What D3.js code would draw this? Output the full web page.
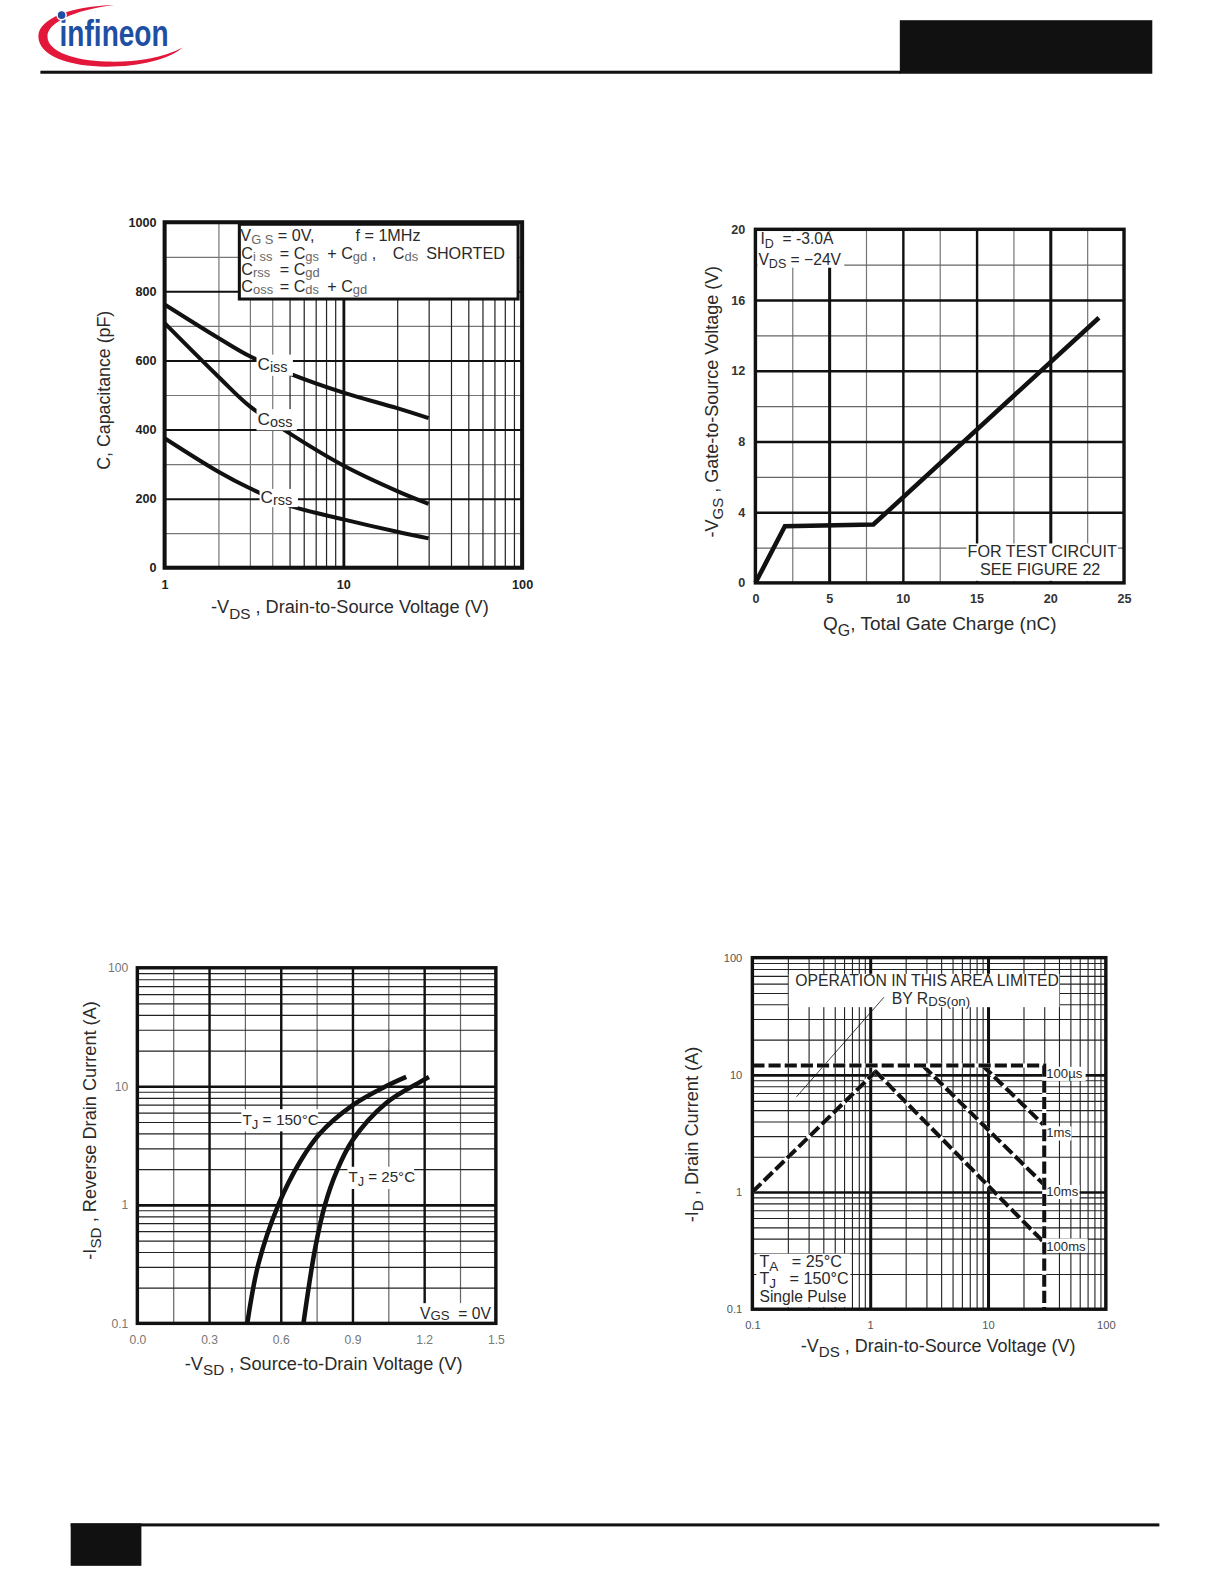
<!DOCTYPE html>
<html>
<head>
<meta charset="utf-8">
<style>
  html, body { margin: 0; padding: 0; background: #fff; overflow: hidden; }
  svg { display: block; }
  text { font-family: "Liberation Sans", Arial, sans-serif; fill: #2a2a2a; white-space: pre; }
</style>
<script src="https://cdn.jsdelivr.net/npm/d3@7"></script>
</head>
<body>
<svg id="page" width="1224" height="1584" viewBox="0 0 1212 1568" preserveAspectRatio="none"></svg>
<script>
// Capacitance vs drain-to-source voltage
const capVoltage = [1, 2, 3, 5, 10, 20, 30];
const ciss = [762, 665, 612, 562, 507, 462, 433];
const coss = [708, 553, 467, 389, 296, 222, 185];
const crss = [375, 278, 230, 180, 140, 104, 85];
const capYTicks = [0, 200, 400, 600, 800, 1000];
const capXTicks = [1, 10, 100];

// Gate charge
const gateCharge = [0, 2, 8, 23.3];
const gateVoltage = [0, 3.2, 3.3, 15];
const gateXTicks = [0, 5, 10, 15, 20, 25];
const gateYTicks = [0, 4, 8, 12, 16, 20];

// Source-drain diode forward voltage
const vsd150 = [0.46, 0.507, 0.59, 0.68, 0.764, 0.9, 1.04, 1.125];
const isd150 = [0.1, 0.32, 1, 2.3, 4.0, 6.9, 10, 12];
const vsd25 = [0.695, 0.743, 0.785, 0.833, 0.9, 1.04, 1.18, 1.22];
const isd25 = [0.1, 0.42, 1, 1.9, 3.5, 7.2, 10.8, 12];
const diodeXTicks = [0, 0.3, 0.6, 0.9, 1.2, 1.5];
const diodeYTicks = [0.1, 1, 10, 100];

// Safe operating area
const rdsV = [0.1, 1.15];
const rdsI = [1, 11];
const limitV = [0.1, 30, 30];
const limitI = [12, 12, 0.1];
const pulse100msV = [1.1, 30];
const pulse100msI = [10.8, 0.37];
const pulse10msV = [2.8, 30];
const pulse10msI = [12, 1.15];
const pulse1msV = [9, 30];
const pulse1msI = [12, 3.7];
const pointerV = [0.237, 1.31];
const pointerI = [6.5, 46];
const soaTicks = [0.1, 1, 10, 100];

// Minor grid positions on the log axes
const minors1 = [2, 3, 4, 5, 6, 7, 8, 9];
const minors10 = [20, 30, 40, 50, 60, 70, 80, 90];
const minors01 = [0.2, 0.3, 0.4, 0.5, 0.6, 0.7, 0.8, 0.9];

const svg = d3.select("#page");
const pts = (xs, ys) => xs.map((x, i) => [x, ys[i]]);

// writes a label with subscripts; parts are strings or {sub: "..."}
function rich(x, y, parts, size, opts = {}) {
    const t = svg.append("text")
        .attr("font-size", size)
        .attr("text-anchor", opts.anchor || "start")
        .attr("transform", `translate(${x},${y})` + (opts.rotate ? " rotate(-90)" : ""));
    if (opts.fill) t.style("fill", opts.fill);
    const drop = opts.drop === undefined ? size * 0.3 : opts.drop;
    let shift = 0;
    parts.forEach(p => {
        const isSub = typeof p !== "string";
        const dy = isSub ? drop : -shift;
        shift = isSub ? drop : 0;
        t.append("tspan")
            .attr("dy", dy)
            .attr("font-size", isSub ? size * (opts.subScale || 0.84) : size)
            .style("fill", isSub && opts.subFill ? opts.subFill : null)
            .text(isSub ? p.sub : p);
    });
    return t;
}

function mask(x, y, w, h) {
    svg.append("rect").attr("x", x).attr("y", y).attr("width", w).attr("height", h).attr("fill", "#fff");
}

function grid(box, xScale, yScale, tiers) {
    tiers.forEach(tier => {
        const axis = tier.axis === "x"
            ? d3.axisBottom(xScale).tickSize(-(box.bottom - box.top))
            : d3.axisLeft(yScale).tickSize(-(box.right - box.left));
        const g = svg.append("g")
            .attr("transform", tier.axis === "x" ? `translate(0,${box.bottom})` : `translate(${box.left},0)`)
            .call(axis.tickValues(tier.values).tickFormat(""));
        g.select(".domain").remove();
        g.selectAll("line").attr("stroke", tier.color).attr("stroke-width", tier.width);
    });
}

function frame(box, width) {
    svg.append("rect")
        .attr("x", box.left).attr("y", box.top)
        .attr("width", box.right - box.left).attr("height", box.bottom - box.top)
        .attr("fill", "none").attr("stroke", "#111").attr("stroke-width", width);
}

function tickLabels(box, xScale, yScale, xTicks, yTicks, style) {
    const gx = svg.append("g").attr("transform", `translate(0,${style.xY})`)
        .call(d3.axisBottom(xScale).tickValues(xTicks).tickSize(0).tickPadding(0).tickFormat(style.xFormat));
    const gy = svg.append("g").attr("transform", `translate(${style.yX},0)`)
        .call(d3.axisLeft(yScale).tickValues(yTicks).tickSize(0).tickPadding(0).tickFormat(style.yFormat));
    [gx, gy].forEach(g => {
        g.select(".domain").remove();
        g.selectAll("text")
            .style("font-family", '"Liberation Sans", Arial, sans-serif')
            .style("font-size", style.size + "px")
            .style("font-weight", style.weight)
            .style("fill", style.fill);
    });
}

function curve(data, xScale, yScale, width, factory, dash) {
    const line = d3.line().x(d => xScale(d[0])).y(d => yScale(d[1])).curve(factory || d3.curveLinear);
    if (dash) {
        svg.append("path").attr("d", line(data)).attr("fill", "none").attr("stroke", "#fff").attr("stroke-width", width);
    }
    svg.append("path").attr("d", line(data)).attr("fill", "none")
        .attr("stroke", "#111").attr("stroke-width", width).attr("stroke-dasharray", dash || null);
}

// page furniture
svg.append("path")
    .attr("d", "M113,5 C72,6 38,18 38,36 C38,56 70,66 105,66 C140,66 168,58 181,47 C160,58 130,62 105,61 C75,60 47,52 47,36 C47,23 72,10 113,5 Z")
    .attr("fill", "#e2173a");
svg.append("text").attr("x", 59).attr("y", 46).attr("font-size", 36).attr("font-weight", 700)
    .attr("textLength", 108).attr("lengthAdjust", "spacingAndGlyphs")
    .style("fill", "#1f4fa3").text("infineon");
svg.append("circle").attr("cx", 61).attr("cy", 15).attr("r", 4.5).attr("fill", "#1f4fa3").attr("stroke", "#fff").attr("stroke-width", 1.5);
svg.append("rect").attr("x", 40).attr("y", 70).attr("width", 852).attr("height", 3).attr("fill", "#111");
svg.append("rect").attr("x", 891).attr("y", 20).attr("width", 250).attr("height", 53).attr("fill", "#111");
svg.append("rect").attr("x", 70).attr("y", 1508).attr("width", 1078).attr("height", 3).attr("fill", "#111");
svg.append("rect").attr("x", 70).attr("y", 1508).attr("width", 70).attr("height", 42).attr("fill", "#111");

// Capacitance chart
{
    const box = { left: 163, right: 517, top: 220, bottom: 562 };
    const x = d3.scaleLog().domain([1, 100]).range([box.left, box.right]);
    const y = d3.scaleLinear().domain([0, 1000]).range([box.bottom, box.top]);
    grid(box, x, y, [
        { axis: "y", values: [100, 300, 500, 700, 900], width: 1.2, color: "#777" },
        { axis: "x", values: [2, 3, 4], width: 1.2, color: "#777" },
        { axis: "x", values: [5, 6, 7, 8, 9, 20, 30, 40, 50, 60, 70, 80, 90], width: 1.2, color: "#222" },
        { axis: "y", values: [200, 400, 600, 800], width: 2, color: "#111" },
        { axis: "x", values: [10], width: 2.8, color: "#111" }
    ]);
    const smooth = d3.curveCatmullRom;
    [ciss, coss, crss].forEach(s => curve(pts(capVoltage, s), x, y, 4, smooth));

    mask(254, 351, 36, 21);
    rich(255, 366, ["C", { sub: "iss" }], 17, { drop: 2 });
    mask(254, 405, 40, 21);
    rich(255, 421, ["C", { sub: "oss" }], 17, { drop: 2 });
    mask(257, 484, 38, 18);
    rich(258, 498, ["C", { sub: "rss" }], 17, { drop: 2 });

    svg.append("rect").attr("x", 237).attr("y", 222).attr("width", 276).attr("height", 74)
        .attr("fill", "#fff").attr("stroke", "#111").attr("stroke-width", 3);
    const annot = { drop: 2.5, subScale: 0.8, subFill: "#666" };
    rich(238, 239, ["V", { sub: "G S" }, " = 0V,"], 16, annot);
    rich(352, 239, ["f = 1MHz"], 16, annot);
    rich(239, 256, ["C", { sub: "i ss" }], 16, annot);
    rich(277, 256, ["= C", { sub: "gs" }], 16, annot);
    rich(324, 256, ["+ C", { sub: "gd" }, " ,"], 16, annot);
    rich(389, 256, ["C", { sub: "ds" }], 16, annot);
    rich(422, 256, ["SHORTED"], 16, annot);
    rich(239, 272, ["C", { sub: "rss" }], 16, annot);
    rich(277, 272, ["= C", { sub: "gd" }], 16, annot);
    rich(239, 289, ["C", { sub: "oss" }], 16, annot);
    rich(277, 289, ["= C", { sub: "ds" }], 16, annot);
    rich(324, 289, ["+ C", { sub: "gd" }], 16, annot);

    frame(box, 4);
    tickLabels(box, x, y, capXTicks, capYTicks, {
        xY: 574, yX: 155, size: 12.5, weight: 600, fill: "#222",
        xFormat: d3.format("d"), yFormat: d3.format("d")
    });
    rich(209, 607, ["-V", { sub: "DS" }, " , Drain-to-Source Voltage (V)"], 18);
    rich(109, 465, ["C, Capacitance (pF)"], 17.6, { rotate: true });
}

// Gate charge chart
{
    const box = { left: 748, right: 1113, top: 227, bottom: 577 };
    const x = d3.scaleLinear().domain([0, 25]).range([box.left, box.right]);
    const y = d3.scaleLinear().domain([0, 20]).range([box.bottom, box.top]);
    grid(box, x, y, [
        { axis: "x", values: [2.5, 7.5, 12.5, 17.5, 22.5], width: 1.2, color: "#777" },
        { axis: "y", values: [2, 6, 10, 14, 18], width: 1.2, color: "#666" },
        { axis: "x", values: [10, 15], width: 2.4, color: "#111" },
        { axis: "x", values: [5, 20], width: 3, color: "#111" },
        { axis: "y", values: [4, 8, 12, 16], width: 2.4, color: "#111" }
    ]);
    curve(pts(gateCharge, gateVoltage), x, y, 4.5, d3.curveLinear);

    mask(750, 229, 86, 36);
    mask(957, 538, 150, 37);
    rich(753, 242, ["I", { sub: "D" }, "  = -3.0A"], 15.5, { drop: 3, subScale: 0.8 });
    rich(751, 262, ["V", { sub: "DS" }, " = \u221224V"], 15.5, { drop: 3, subScale: 0.8 });
    rich(1032, 551, ["FOR TEST CIRCUIT"], 16, { anchor: "middle" });
    rich(1030, 569, ["SEE FIGURE 22"], 16, { anchor: "middle" });

    frame(box, 3.4);
    tickLabels(box, x, y, gateXTicks, gateYTicks, {
        xY: 588, yX: 738, size: 12.5, weight: 600, fill: "#333",
        xFormat: d3.format("d"), yFormat: d3.format("d")
    });
    rich(815, 624, ["Q", { sub: "G" }, ", Total Gate Charge (nC)"], 18.8);
    rich(711, 532, ["-V", { sub: "GS" }, " , Gate-to-Source Voltage (V)"], 17.8, { rotate: true });
}

// Diode forward voltage chart
{
    const box = { left: 136, right: 491, top: 958, bottom: 1310 };
    const x = d3.scaleLinear().domain([0, 1.5]).range([box.left, box.right]);
    const y = d3.scaleLog().domain([0.1, 100]).range([box.bottom, box.top]);
    grid(box, x, y, [
        { axis: "x", values: [0.15, 0.45, 0.75, 1.05, 1.35], width: 1.2, color: "#666" },
        { axis: "y", values: [...minors01, ...minors1, ...minors10], width: 1.2, color: "#222" },
        { axis: "x", values: [0.3, 0.6, 0.9, 1.2], width: 2.4, color: "#111" },
        { axis: "y", values: [1, 10], width: 2.6, color: "#111" }
    ]);
    const smooth = d3.curveCatmullRom;
    curve(pts(vsd150, isd150), x, y, 4.5, smooth);
    curve(pts(vsd25, isd25), x, y, 4.5, smooth);

    mask(239, 1098, 76, 22);
    rich(240, 1114, ["T", { sub: "J" }, " = 150\u00b0C"], 15.3, { drop: 4 });
    mask(344, 1155, 66, 22);
    rich(345, 1170, ["T", { sub: "J" }, " = 25\u00b0C"], 15, { drop: 4 });
    mask(414, 1290, 75, 19);
    rich(416, 1306, ["V", { sub: "GS" }, "  = 0V"], 15.5, { drop: 1 });

    frame(box, 3.4);
    tickLabels(box, x, y, diodeXTicks, diodeYTicks, {
        xY: 1322, yX: 127, size: 12, weight: 400, fill: "#777",
        xFormat: d3.format(".1f"), yFormat: d3.format("~g")
    });
    rich(183, 1356, ["-V", { sub: "SD" }, " , Source-to-Drain Voltage (V)"], 18);
    rich(95, 1247, ["-I", { sub: "SD" }, " , Reverse Drain Current (A)"], 18, { rotate: true });
}

// Safe operating area chart
{
    const box = { left: 745, right: 1095, top: 948, bottom: 1296 };
    const x = d3.scaleLog().domain([0.1, 100]).range([box.left, box.right]);
    const y = d3.scaleLog().domain([0.1, 100]).range([box.bottom, box.top]);
    grid(box, x, y, [
        { axis: "x", values: [...minors01, ...minors1, ...minors10], width: 1.1, color: "#222" },
        { axis: "y", values: [...minors01, ...minors1, ...minors10], width: 1.1, color: "#222" },
        { axis: "x", values: [1, 10], width: 3, color: "#111" },
        { axis: "y", values: [1, 10], width: 2.6, color: "#111" }
    ]);

    mask(781, 964, 268, 33);
    mask(749, 1241, 93, 53);
    mask(1035, 1056, 40, 14);
    mask(1035, 1115, 26, 14);
    mask(1035, 1173, 34, 14);
    mask(1035, 1226, 42, 14);

    curve(pts(pointerV, pointerI), x, y, 0.8);
    const dash = "12 4";
    [[rdsV, rdsI], [pulse100msV, pulse100msI], [pulse10msV, pulse10msI], [pulse1msV, pulse1msI], [limitV, limitI]]
        .forEach(s => curve(pts(s[0], s[1]), x, y, 4, d3.curveLinear, dash));

    rich(918, 976, ["OPERATION IN THIS AREA LIMITED"], 15.6, { anchor: "middle" });
    rich(883, 994, ["BY R", { sub: "DS(on)" }], 15.6, { drop: 2 });
    rich(1036, 1067, ["100\u00b5s"], 13);
    rich(1036, 1126, ["1ms"], 13);
    rich(1036, 1184, ["10ms"], 13);
    rich(1036, 1238, ["100ms"], 13);
    rich(752, 1254, ["T", { sub: "A" }, "   = 25\u00b0C"], 16, { drop: 4 });
    rich(752, 1271, ["T", { sub: "J" }, "   = 150\u00b0C"], 16, { drop: 4 });
    rich(752, 1289, ["Single Pulse"], 15.5);

    frame(box, 3.4);
    tickLabels(box, x, y, soaTicks, soaTicks, {
        xY: 1308, yX: 735, size: 11, weight: 400, fill: "#555",
        xFormat: d3.format("~g"), yFormat: d3.format("~g")
    });
    rich(793, 1338, ["-V", { sub: "DS" }, " , Drain-to-Source Voltage (V)"], 17.8);
    rich(691, 1210, ["-I", { sub: "D" }, " , Drain Current (A)"], 18, { rotate: true });
}
</script>
</body>
</html>
